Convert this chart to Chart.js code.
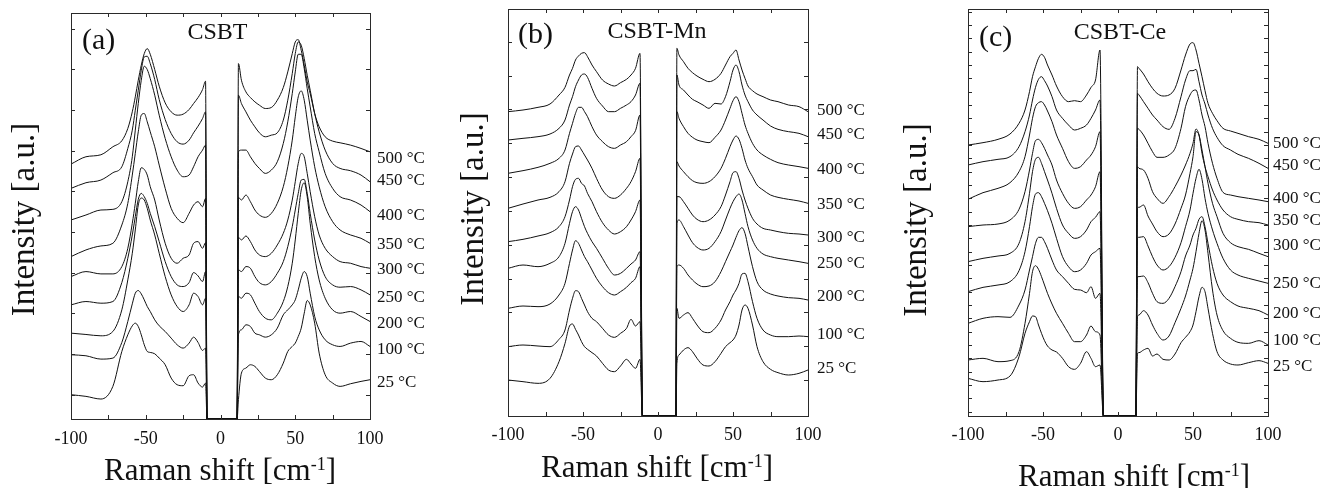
<!DOCTYPE html>
<html lang="en">
<head>
<meta charset="UTF-8">
<title>Raman spectra: CSBT, CSBT-Mn, CSBT-Ce</title>
<script src="https://cdn.jsdelivr.net/npm/chart.js"></script>
<style>
  body { margin: 0; background: #fff; }
  canvas { position: absolute; top: 0; }
</style>
</head>
<body>
<canvas id="chartA" width="440" height="488" style="left:0"></canvas>
<canvas id="chartB" width="450" height="488" style="left:440px"></canvas>
<canvas id="chartC" width="448" height="488" style="left:890px"></canvas>
<script>
// temperatures, top curve first
const temps = ['500', '450', '400', '350', '300', '250', '200', '100', '25'];

// Raman shift sample points (cm-1) on each side of the notch filter
const xLeftA = [-100, -90, -80, -72, -66, -62, -59, -57, -55, -53, -51, -49, -47, -44, -41, -37, -33, -29, -25, -21, -18, -15, -12, -10];
const xLeftBC = [-100, -90, -80, -72, -66, -62, -59, -57, -55, -53, -51, -49, -47, -44, -41, -37, -33, -29, -25, -21, -18, -15, -12];
const xRightA = [12, 14, 17, 20, 23, 26, 30, 34, 38, 42, 45, 48, 50, 52, 54, 56, 58, 60, 63, 66, 70, 75, 80, 87, 94, 100];
const xRightB = [12.6, 14, 17, 20, 23, 26, 30, 34, 38, 42, 45, 48, 50, 52, 54, 56, 58, 60, 63, 66, 70, 75, 80, 87, 94, 100];
const xRightC = [13, 14, 17, 20, 23, 26, 30, 34, 38, 42, 45, 48, 50, 52, 54, 56, 58, 60, 63, 66, 70, 75, 80, 87, 94, 100];

// notch edges where the traces drop to the floor
const gapA = [-9, 11.1];
const gapB = [-10.4, 12];
const gapC = [-9.7, 11.9];

// intensity (a.u., curves already stacked), rows follow temps
const csbtLeft = [
  [808, 830, 836, 860, 878, 915, 965, 1010, 1060, 1105, 1140, 1155, 1138, 1092, 1042, 992, 965, 955, 958, 972, 990, 1008, 1032, 1057],
  [735, 752, 760, 782, 800, 855, 910, 970, 1030, 1090, 1130, 1132, 1110, 1062, 1002, 942, 900, 875, 868, 880, 902, 922, 945, 965],
  [640, 655, 670, 672, 695, 755, 830, 910, 990, 1060, 1102, 1092, 1065, 1015, 955, 885, 830, 790, 770, 775, 800, 830, 850, 865],
  [530, 550, 562, 570, 625, 690, 775, 840, 905, 955, 960, 935, 905, 860, 805, 735, 675, 645, 632, 660, 685, 695, 680, 705],
  [470, 485, 478, 478, 500, 555, 630, 690, 755, 797, 792, 775, 740, 700, 640, 570, 525, 510, 525, 535, 570, 575, 555, 572],
  [385, 395, 390, 395, 452, 525, 595, 650, 702, 720, 710, 690, 660, 620, 575, 515, 470, 445, 440, 452, 482, 472, 455, 485],
  [300, 296, 292, 305, 370, 460, 540, 610, 685, 706, 700, 675, 640, 595, 540, 470, 415, 380, 365, 385, 420, 410, 385, 405],
  [235, 232, 222, 225, 272, 335, 388, 420, 428, 418, 400, 380, 365, 340, 322, 305, 285, 265, 255, 270, 288, 272, 248, 255],
  [115, 110, 102, 140, 245, 295, 322, 330, 320, 295, 265, 245, 242, 238, 225, 205, 165, 145, 142, 172, 175, 150, 138, 150]
];
const csbtRight = [
  [1110, 1060, 1025, 1008, 995, 985, 975, 978, 1000, 1038, 1085, 1140, 1175, 1182, 1150, 1105, 1055, 1020, 960, 920, 890, 877, 872, 865, 855, 845],
  [1015, 990, 965, 940, 920, 902, 890, 895, 902, 940, 1000, 1080, 1140, 1175, 1165, 1125, 1075, 1030, 960, 905, 850, 810, 795, 788, 775, 755],
  [845, 850, 850, 830, 810, 795, 780, 790, 815, 870, 935, 1020, 1085, 1138, 1138, 1095, 1035, 980, 900, 845, 780, 735, 710, 700, 685, 665],
  [708, 700, 715, 695, 670, 655, 648, 660, 690, 740, 800, 880, 950, 1010, 1028, 1000, 940, 880, 800, 740, 680, 635, 610, 595, 585, 570],
  [588, 580, 592, 575, 550, 535, 530, 540, 565, 600, 640, 700, 755, 810, 840, 830, 780, 725, 650, 595, 555, 530, 515, 510, 500, 495],
  [490, 485, 500, 495, 470, 452, 445, 455, 480, 515, 560, 620, 670, 720, 760, 762, 720, 660, 580, 520, 470, 445, 438, 440, 430, 415],
  [410, 405, 420, 415, 390, 365, 345, 340, 360, 395, 440, 510, 580, 660, 730, 752, 710, 630, 530, 460, 405, 370, 360, 365, 350, 335],
  [295, 310, 325, 320, 300, 295, 288, 295, 315, 355, 370, 385, 400, 430, 465, 485, 470, 420, 350, 310, 280, 265, 260, 270, 275, 260],
  [100, 180, 195, 205, 200, 185, 165, 160, 175, 210, 245, 260, 270, 290, 315, 360, 398, 385, 330, 240, 175, 150, 140, 148, 155, 160]
];

const mnLeft = [
  [965, 970, 978, 988, 1015, 1038, 1075, 1095, 1120, 1132, 1140, 1142, 1130, 1105, 1085, 1060, 1048, 1042, 1052, 1062, 1075, 1095, 1140],
  [880, 885, 890, 898, 915, 940, 985, 1010, 1040, 1060, 1075, 1078, 1068, 1035, 1005, 982, 965, 965, 975, 985, 995, 1015, 1050],
  [780, 788, 798, 810, 825, 850, 900, 930, 960, 978, 978, 965, 950, 920, 895, 875, 860, 855, 865, 875, 890, 908, 955],
  [675, 688, 700, 708, 725, 755, 810, 838, 860, 862, 850, 835, 820, 795, 765, 730, 710, 705, 715, 735, 755, 785, 825],
  [575, 582, 592, 602, 620, 650, 700, 740, 762, 765, 750, 742, 720, 695, 665, 632, 610, 598, 605, 620, 640, 665, 700],
  [495, 505, 500, 510, 530, 570, 630, 665, 680, 670, 645, 620, 600, 575, 555, 525, 495, 475, 480, 495, 508, 520, 545],
  [375, 382, 380, 388, 415, 450, 510, 550, 578, 570, 550, 530, 515, 490, 465, 440, 422, 415, 425, 438, 452, 465, 500],
  [260, 265, 262, 260, 282, 310, 370, 405, 428, 425, 405, 385, 365, 345, 335, 315, 295, 288, 300, 315, 342, 322, 335],
  [160, 155, 150, 165, 215, 270, 322, 328, 312, 295, 275, 260, 252, 242, 232, 210, 190, 185, 202, 222, 208, 195, 222]
];
const mnRight = [
  [1155, 1135, 1115, 1095, 1082, 1072, 1062, 1055, 1062, 1080, 1105, 1130, 1140, 1150, 1120, 1090, 1065, 1042, 1028, 1018, 1010, 1000, 995, 985, 980, 965],
  [1075, 1045, 1030, 1015, 1002, 995, 985, 975, 990, 988, 1010, 1055, 1090, 1105, 1085, 1045, 1015, 995, 970, 955, 940, 922, 912, 905, 900, 890],
  [965, 945, 920, 900, 888, 880, 875, 872, 888, 910, 940, 975, 998, 1010, 995, 960, 925, 900, 870, 850, 835, 822, 812, 805, 800, 795],
  [815, 802, 785, 770, 758, 752, 750, 755, 770, 795, 825, 860, 880, 892, 882, 855, 820, 795, 770, 745, 730, 715, 708, 702, 697, 690],
  [710, 710, 695, 675, 655, 642, 635, 640, 655, 680, 715, 755, 782, 785, 765, 730, 700, 675, 645, 628, 615, 610, 605, 600, 598, 595],
  [630, 640, 620, 595, 572, 558, 550, 555, 575, 605, 640, 675, 695, 710, 718, 700, 660, 620, 580, 555, 538, 530, 525, 520, 515, 510],
  [500, 505, 495, 475, 460, 448, 440, 442, 455, 485, 515, 545, 565, 588, 608, 617, 600, 560, 500, 455, 430, 418, 412, 407, 405, 400],
  [375, 345, 355, 362, 345, 325, 305, 302, 315, 340, 370, 395, 415, 430, 450, 478, 480, 455, 395, 345, 310, 295, 290, 290, 292, 290],
  [210, 235, 250, 257, 245, 225, 205, 202, 215, 240, 260, 272, 280, 295, 325, 370, 385, 375, 325, 260, 215, 192, 182, 175, 180, 190]
];

const ceLeft = [
  [865, 872, 882, 898, 930, 970, 1025, 1070, 1100, 1125, 1137, 1128, 1105, 1075, 1042, 1010, 995, 998, 995, 1015, 1038, 1060, 1150],
  [805, 815, 822, 830, 860, 905, 955, 1000, 1038, 1062, 1070, 1058, 1042, 1010, 970, 945, 925, 910, 915, 925, 945, 970, 1000],
  [702, 722, 735, 752, 785, 830, 895, 945, 980, 992, 995, 985, 967, 935, 895, 855, 815, 795, 800, 820, 835, 860, 905],
  [620, 625, 628, 640, 672, 725, 790, 840, 878, 882, 872, 855, 835, 805, 760, 720, 690, 675, 680, 700, 715, 740, 785],
  [515, 525, 532, 540, 570, 635, 720, 785, 822, 828, 810, 785, 760, 720, 675, 625, 600, 585, 590, 610, 635, 648, 665],
  [425, 438, 445, 455, 488, 545, 620, 680, 718, 722, 710, 690, 668, 630, 585, 530, 500, 485, 490, 510, 535, 545, 555],
  [330, 345, 350, 348, 385, 430, 490, 530, 570, 588, 588, 575, 555, 520, 490, 470, 450, 432, 430, 422, 440, 405, 420],
  [220, 225, 215, 218, 245, 330, 420, 485, 503, 492, 470, 445, 420, 388, 360, 330, 300, 275, 275, 295, 322, 305, 295],
  [165, 155, 160, 172, 230, 300, 335, 352, 350, 325, 300, 278, 262, 250, 244, 225, 200, 192, 210, 245, 225, 200, 205]
];
const ceRight = [
  [1100, 1095, 1078, 1055, 1035, 1020, 1012, 1015, 1035, 1090, 1135, 1168, 1172, 1150, 1110, 1070, 1028, 990, 960, 938, 915, 907, 900, 890, 882, 870],
  [1020, 1015, 995, 975, 955, 940, 920, 912, 945, 1010, 1060, 1088, 1088, 1092, 1055, 1015, 988, 955, 915, 888, 863, 850, 837, 825, 810, 795],
  [915, 912, 895, 870, 845, 828, 828, 835, 855, 915, 980, 1015, 1028, 1030, 1000, 955, 920, 870, 810, 765, 723, 715, 710, 705, 700, 695],
  [800, 795, 790, 765, 725, 705, 690, 710, 740, 775, 805, 840, 870, 913, 895, 840, 800, 770, 730, 700, 670, 650, 642, 635, 632, 625],
  [675, 678, 685, 652, 628, 605, 590, 598, 628, 675, 715, 780, 830, 905, 895, 850, 800, 750, 690, 650, 600, 572, 560, 552, 540, 530],
  [585, 588, 590, 562, 530, 505, 490, 500, 528, 572, 620, 670, 720, 765, 792, 762, 705, 660, 610, 570, 525, 490, 475, 465, 457, 450],
  [470, 470, 472, 452, 420, 395, 390, 405, 440, 485, 532, 565, 595, 615, 642, 650, 620, 570, 500, 450, 415, 395, 382, 375, 368, 355],
  [350, 355, 368, 355, 325, 300, 280, 292, 332, 375, 412, 460, 495, 545, 600, 638, 610, 540, 430, 355, 308, 285, 273, 270, 278, 265],
  [240, 242, 250, 255, 232, 238, 222, 220, 238, 272, 288, 305, 325, 365, 410, 438, 425, 375, 300, 245, 220, 208, 205, 212, 218, 210]
];

// level (a.u.) at which each temperature label sits
const labelLevelA = [825, 760, 652, 565, 492, 407, 330, 252, 152];
const labelLevelB = [967, 895, 792, 685, 588, 510, 410, 295, 195];
const labelLevelC = [870, 803, 705, 638, 562, 450, 360, 278, 200];

const SERIF = '"Liberation Serif", "Times New Roman", serif';
const INK = '#111';

// frame, inward ticks and all text around the plot
const decor = {
  id: 'decor',
  afterDraw(chart, args, o) {
    const { ctx, chartArea: a } = chart;
    const x = chart.scales.x, y = chart.scales.y;
    ctx.save();
    ctx.strokeStyle = '#2a2a2a';
    ctx.lineWidth = 1;
    const L = Math.round(a.left), T = Math.round(a.top), R = Math.round(a.right), B = Math.round(a.bottom);
    ctx.strokeRect(L + 0.5, T + 0.5, R - L, B - T);
    ctx.beginPath();
    for (let v = -100; v <= 100; v += 25) {
      const px = Math.round(x.getPixelForValue(v)) + 0.5;
      ctx.moveTo(px, B); ctx.lineTo(px, B - 4);
      ctx.moveTo(px, T); ctx.lineTo(px, T + 4);
    }
    for (let v = o.yTick[0]; v <= y.max; v += o.yTick[1]) {
      const py = Math.round(y.getPixelForValue(v)) + 0.5;
      ctx.moveTo(L, py); ctx.lineTo(L + 4, py);
      ctx.moveTo(R, py); ctx.lineTo(R - 4, py);
    }
    ctx.stroke();

    ctx.fillStyle = INK;
    ctx.textBaseline = 'middle';
    ctx.textAlign = 'left';
    ctx.font = '30px ' + SERIF;
    ctx.fillText(o.letter, a.left + o.letterPos[0], a.top + o.letterPos[1]);
    ctx.textAlign = 'center';
    ctx.font = '24px ' + SERIF;
    ctx.fillText(o.name, (a.left + a.right) / 2 + o.namePos[0], a.top + o.namePos[1]);

    ctx.textAlign = 'left';
    ctx.font = '17px ' + SERIF;
    o.levels.forEach((lv, i) => {
      ctx.fillText(temps[i] + ' \u00B0C', a.right + o.labelDx, y.getPixelForValue(lv));
    });

    // y title
    ctx.save();
    ctx.translate(o.yTitle[0], o.yTitle[1]);
    ctx.rotate(-Math.PI / 2);
    ctx.textAlign = 'center';
    ctx.font = '33px ' + SERIF;
    ctx.fillText('Intensity [a.u.]', 0, 0);
    ctx.restore();

    // x title with superscript
    ctx.textBaseline = 'alphabetic';
    ctx.textAlign = 'left';
    const big = '31px ' + SERIF, small = '18px ' + SERIF;
    const t1 = 'Raman shift [cm', t2 = '-1', t3 = ']';
    ctx.font = big;
    const w1 = ctx.measureText(t1).width, w3 = ctx.measureText(t3).width;
    ctx.font = small;
    const w2 = ctx.measureText(t2).width;
    let sx = o.xTitle[0] - (w1 + w2 + w3) / 2;
    const base = o.xTitle[1];
    ctx.font = big; ctx.fillText(t1, sx, base); sx += w1;
    ctx.font = small; ctx.fillText(t2, sx, base - 10); sx += w2;
    ctx.font = big; ctx.fillText(t3, sx, base);
    ctx.restore();
  }
};

function makePanel(id, p) {
  const datasets = p.left.map((row, i) => ({
    label: temps[i] + ' \u00B0C',
    data: row.map((v, j) => ({ x: p.xl[j], y: v }))
      .concat([{ x: p.gap[0], y: p.range[0] }, { x: p.gap[1], y: p.range[0] }])
      .concat(p.right[i].map((v, j) => ({ x: p.xr[j], y: v }))),
    borderColor: INK,
    borderWidth: 1,
    pointRadius: 0,
    fill: false,
    cubicInterpolationMode: 'monotone'
  }));
  return new Chart(document.getElementById(id), {
    type: 'line',
    data: { datasets },
    options: {
      responsive: false,
      animation: false,
      events: [],
      layout: { padding: p.pad },
      plugins: { legend: { display: false }, tooltip: { enabled: false }, decor: p.decor },
      scales: {
        x: {
          type: 'linear', min: -100, max: 100,
          grid: { display: false, drawTicks: false },
          border: { display: false },
          ticks: { stepSize: 50, padding: p.tickPad, color: INK, font: { family: SERIF, size: 18 } },
          afterFit(scale) { scale.height = p.xHeight; }
        },
        y: { display: false, min: p.range[0], max: p.range[1] }
      }
    },
    plugins: [decor]
  });
}

makePanel('chartA', {
  xl: xLeftA, xr: xRightA, gap: gapA, left: csbtLeft, right: csbtRight,
  range: [42, 1262], pad: { left: 71, right: 70, top: 13, bottom: 0 }, xHeight: 69, tickPad: 9,
  decor: { letter: '(a)', letterPos: [11, 28], name: 'CSBT', namePos: [-3, 20], levels: labelLevelA,
           labelDx: 7, yTitle: [25, 219.5], xTitle: [220, 480], yTick: [115, 122.2] }
});
makePanel('chartB', {
  xl: xLeftBC, xr: xRightB, gap: gapB, left: mnLeft, right: mnRight,
  range: [52, 1273], pad: { left: 68, right: 82, top: 9, bottom: 0 }, xHeight: 72, tickPad: 8,
  decor: { letter: '(b)', letterPos: [10, 26], name: 'CSBT-Mn', namePos: [-1, 23], levels: labelLevelB,
           labelDx: 9, yTitle: [34, 209], xTitle: [217, 477], yTick: [160, 101.5] }
});
makePanel('chartC', {
  xl: xLeftBC, xr: xRightC, gap: gapC, left: ceLeft, right: ceRight,
  range: [52, 1273], pad: { left: 78, right: 70, top: 9, bottom: 0 }, xHeight: 72, tickPad: 8,
  decor: { letter: '(c)', letterPos: [11, 29], name: 'CSBT-Ce', namePos: [2, 24], levels: labelLevelC,
           labelDx: 5, yTitle: [27.5, 220], xTitle: [244, 486], yTick: [65, 40] }
});
</script>
</body>
</html>
